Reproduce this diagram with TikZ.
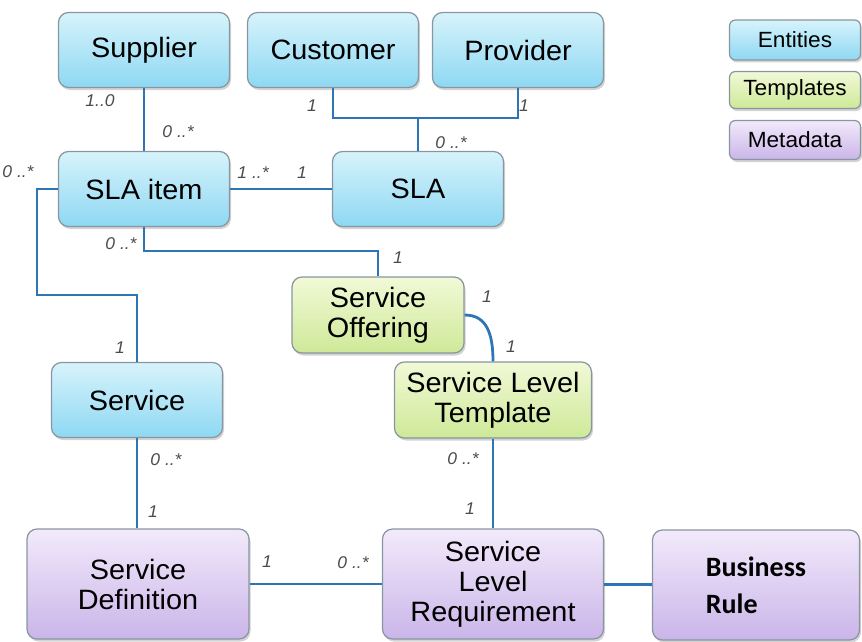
\documentclass[tikz,border=0pt]{standalone}
\usepackage{fontspec}
\setmainfont[FakeStretch=1.03]{Liberation Sans}
\newfontfamily\calibri{Carlito}
\usetikzlibrary{shadows}
\definecolor{linkblue}{RGB}{46,117,182}
\definecolor{boxline}{RGB}{135,150,160}
\definecolor{enttop}{RGB}{215,243,251}
\definecolor{entbot}{RGB}{142,216,243}
\definecolor{tpltop}{RGB}{242,249,215}
\definecolor{tplbot}{RGB}{206,233,152}
\definecolor{metatop}{RGB}{242,234,251}
\definecolor{metabot}{RGB}{202,181,233}
\begin{document}
\begin{tikzpicture}[x=1pt,y=-1pt]
    \tikzset{box/.style=   {draw=boxline,
                            line width=1.2pt,
                            rounded corners=10pt,
                            align=center,
                            inner sep=0pt,
                            font=\fontsize{28}{30}\selectfont,
                            drop shadow={opacity=0.35,shadow xshift=1.5pt,shadow yshift=-2.5pt}},
             entity/.style={box,
                            top color=enttop,
                            bottom color=entbot,
                            minimum width=171pt,
                            minimum height=75pt},
             templ/.style= {box,
                            top color=tpltop,
                            bottom color=tplbot,
                            minimum height=76pt},
             meta/.style=  {box,
                            top color=metatop,
                            bottom color=metabot,
                            minimum height=110pt},
             legend/.style={box,
                            rounded corners=6pt,
                            minimum width=131pt,
                            font=\fontsize{22}{24}\selectfont},
             mult/.style=  {font=\fontsize{17}{18}\selectfont\itshape,
                            text=black!70},
             link/.style=  {draw=linkblue,
                            line width=2.8pt},
            }
    \useasboundingbox (0,0) rectangle (862,642);
    \path
    (144,50)   node[entity](sup)  {Supplier}
    (333,50)   node[entity](cust) {Customer}
    (518,50)   node[entity](prov) {Provider}
    (144,189)  node[entity](item) {SLA item}
    (418,189)  node[entity](sla)  {SLA}
    (378,315)  node[templ, minimum width=172pt](offer) {Service\\Offering}
    (493,400)  node[templ, minimum width=197pt](slt)   {Service Level\\Template}
    (137,400)  node[entity](serv) {Service}
    (138,584)  node[meta, minimum width=222pt](sdef) {Service\\Definition}
    (493,584)  node[meta, minimum width=221pt](slr)  {Service\\Level\\Requirement}
    (756,585)  node[meta, minimum width=207pt, align=left,
                    font=\calibri\bfseries\fontsize{28}{37}\selectfont](rule) {Business\\Rule}
    (795,40)   node[legend, top color=enttop, bottom color=entbot, minimum height=40pt](lent) {Entities}
    (795,90)   node[legend, top color=tpltop, bottom color=tplbot, minimum height=37pt](ltpl) {Templates}
    (795,140)  node[legend, top color=metatop, bottom color=metabot, minimum height=39pt](lmeta) {Metadata}
    ;
    \coordinate (join)  at (418,118);
    \coordinate (loop)  at (37,295);
    \coordinate (knee)  at (378,251);
    \draw[link] (sup) -- (item);
    \draw[link] (cust.south) |- (join) -| (prov.south);
    \draw[link] (join) -- (sla.north);
    \draw[link] (item) -- (sla);
    \draw[link] (item.west) -| (loop) -| (serv.north);
    \draw[link] (item.south) |- (knee) -- (offer.north);
    \draw[link] (offer.east) .. controls +(22,0) and +(0,-28) .. (slt.north);
    \draw[link] (serv.south) -- (serv.south |- sdef.north);
    \draw[link] (slt) -- (slr);
    \draw[link] (sdef) -- (slr);
    \draw[link] (slr) -- (rule);
    % multiplicities
    \path
    (100,101)  node[mult] {1..0}
    (178,132)  node[mult] {0 ..*}
    (312,106)  node[mult] {1}
    (524,106)  node[mult] {1}
    (451,143)  node[mult] {0 ..*}
    (18,172)   node[mult] {0 ..*}
    (253,173)  node[mult] {1 ..*}
    (302,173)  node[mult] {1}
    (121,244)  node[mult] {0 ..*}
    (398,258)  node[mult] {1}
    (487,297)  node[mult] {1}
    (511,347)  node[mult] {1}
    (120,348)  node[mult] {1}
    (166,460)  node[mult] {0 ..*}
    (153,512)  node[mult] {1}
    (267,562)  node[mult] {1}
    (353,563)  node[mult] {0 ..*}
    (463,459)  node[mult] {0 ..*}
    (470,509)  node[mult] {1}
    ;
\end{tikzpicture}
\end{document}
